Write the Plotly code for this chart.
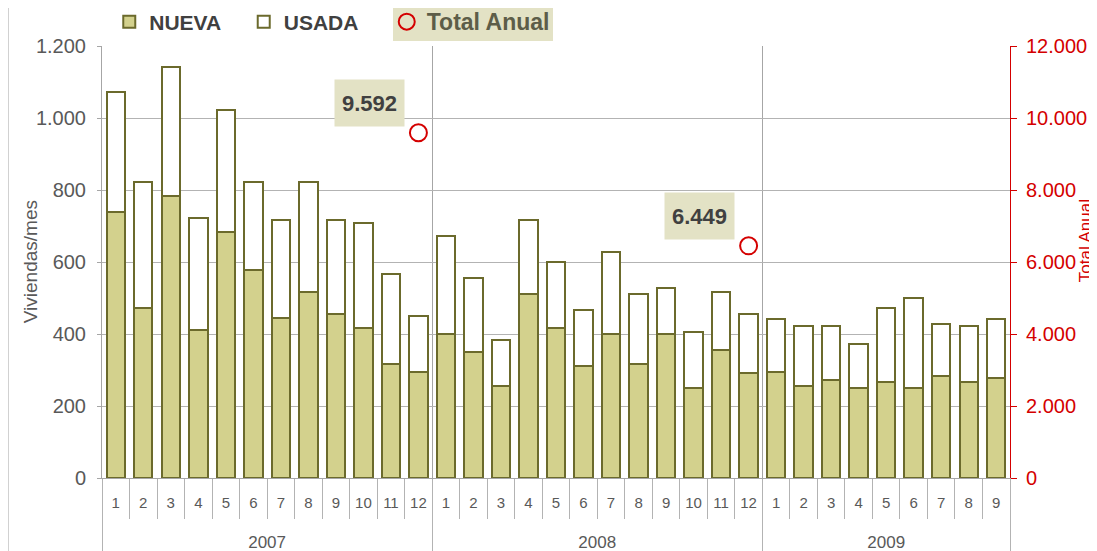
import plotly.graph_objects as go

years = ["2007"] * 12 + ["2008"] * 12 + ["2009"] * 9
months = [str(m) for m in range(1, 13)] * 2 + [str(m) for m in range(1, 10)]

nueva = [738, 473, 784, 411, 683, 579, 445, 517, 456, 417, 317, 295,
         400, 349, 255, 511, 418, 311, 400, 317, 400, 250, 356, 291,
         294, 255, 273, 250, 267, 250, 282, 266, 278]
usada = [334, 349, 358, 311, 339, 243, 272, 305, 261, 290, 250, 155,
         272, 207, 127, 206, 183, 156, 228, 194, 127, 155, 160, 165,
         149, 167, 149, 123, 205, 250, 147, 156, 165]

total_years = ["2007", "2008"]
total_anual = [9592, 6449]
total_labels = ["9.592", "6.449"]

year_names = ["2007", "2008", "2009"]

# positions derived from the data
pos = list(range(len(months)))
year_centers = [sum(i for i in pos if years[i] == y) / years.count(y) for y in year_names]
year_bounds = [-0.5] + [i + 0.5 for i in pos[:-1] if years[i] != years[i + 1]] + [len(pos) - 0.5]
month_bounds = [i - 0.5 for i in pos] + [len(pos) - 0.5]
total_pos = [max(i for i in pos if years[i] == y and months[i] == "12") for y in total_years]

OLIVE_FILL = "#d3d18d"
OLIVE_LINE = "#6b6a2c"
RED = "#d40000"
GRID = "#b3b3b3"
TXT = "#595959"
LABEL_BG = "#e3e2c5"
FONT = "Liberation Sans, Arial, sans-serif"
NBSP = "\u00a0"

fig = go.Figure()
fig.add_trace(go.Bar(
    x=pos, y=nueva, name="<b>NUEVA</b>" + NBSP * 3, customdata=years,
    marker=dict(color=OLIVE_FILL, line=dict(color=OLIVE_LINE, width=2)),
))
fig.add_trace(go.Bar(
    x=pos, y=usada, name="<b>USADA</b>" + NBSP * 4, customdata=years,
    marker=dict(color="white", line=dict(color=OLIVE_LINE, width=2)),
))
fig.add_trace(go.Scatter(
    x=total_pos, y=total_anual, xaxis="x2", yaxis="y2",
    name="<b><span style='color:#5d5d48;font-size:23px'>Total Anual</span></b>",
    mode="markers",
    marker=dict(symbol="circle-open", size=17, color=RED, line=dict(width=2, color=RED)),
))

annotations = []
for xi, v, lab in zip(total_pos, total_anual, total_labels):
    annotations.append(dict(
        x=xi, y=v, xref="x2", yref="y2", text="<b>" + lab + "</b>",
        showarrow=True, arrowcolor="rgba(0,0,0,0)", arrowwidth=0.1,
        ax=-49, ay=-30, bgcolor=LABEL_BG, borderpad=7, height=32,
        font=dict(size=22, color="#404040", family=FONT),
    ))
annotations.append(dict(
    text="Viviendas/mes", xref="paper", yref="paper", x=-0.079, y=0.5,
    xanchor="center", yanchor="middle",
    textangle=-90, showarrow=False, font=dict(size=19, color=TXT, family=FONT),
))
annotations.append(dict(
    text="Total Anual", xref="paper", yref="paper", x=1.0835, y=0.55,
    xanchor="center", yanchor="middle",
    textangle=-90, showarrow=False, font=dict(size=17, color=RED, family=FONT),
))

shapes = [
    # legend highlight box for Total Anual
    dict(type="rect", xref="paper", yref="paper", x0=0.3205, x1=0.4967,
         y0=1.0116, y1=1.0995, fillcolor=LABEL_BG, line=dict(width=0), layer="below"),
    # outer frame line at the left edge
    dict(type="line", xref="paper", yref="paper", x0=-0.1035, x1=-0.1035, y0=-0.2, y1=1.2,
         line=dict(color="#a6a6a6", width=1)),
]

xrange = [-0.5, len(pos) - 0.5]

# the page body adds an 8px offset; margins are set so the plot area lands
# at x 102..1010, y 46..478 in the browser window
fig.update_layout(
    width=1097, height=551,
    barmode="stack", bargap=0.33,
    separators=",.",
    paper_bgcolor="white", plot_bgcolor="white",
    font=dict(family=FONT, color=TXT),
    margin=dict(l=94, r=95, t=38, b=81, autoexpand=False),
    showlegend=True,
    legend=dict(orientation="h", x=0.008, y=1.0556, xanchor="left", yanchor="middle",
                font=dict(size=21, color="#404040"), bgcolor="rgba(0,0,0,0)",
                itemwidth=30, traceorder="normal"),
    xaxis=dict(
        range=xrange, showgrid=False, zeroline=False,
        tickmode="array", tickvals=pos, ticktext=months,
        ticks="outside", ticklen=11, tickcolor="rgba(0,0,0,0)",
        minor=dict(tickmode="array", tickvals=month_bounds, ticks="outside",
                   ticklen=40, tickcolor="#b3b3b3", showgrid=False),
        showline=True, linecolor="#a6a6a6",
        tickfont=dict(size=15, color=TXT),
    ),
    xaxis2=dict(
        range=xrange, overlaying="x", anchor="y", side="bottom", zeroline=False,
        showgrid=False, showline=False,
        tickmode="array", tickvals=year_centers, ticktext=year_names,
        ticks="outside", ticklen=49, tickcolor="rgba(0,0,0,0)",
        minor=dict(tickmode="array", tickvals=year_bounds, ticks="outside",
                   ticklen=80, tickcolor="#b3b3b3",
                   showgrid=True, gridcolor="#a6a6a6", gridwidth=1),
        tickfont=dict(size=17, color=TXT),
    ),
    yaxis=dict(
        range=[0, 1200], dtick=200, tickformat=",d",
        showgrid=True, gridcolor=GRID, gridwidth=1,
        showline=True, linecolor="#a6a6a6", zeroline=False,
        ticks="outside", ticklen=4, tickcolor="#a6a6a6", ticklabelstandoff=7,
        tickfont=dict(size=20, color=TXT),
    ),
    yaxis2=dict(
        range=[0, 12000], dtick=2000, tickformat=",d", anchor="x2",
        overlaying="y", side="right", showgrid=False, zeroline=False,
        showline=True, linecolor=RED, linewidth=1,
        ticks="outside", ticklen=6, tickcolor=RED, ticklabelstandoff=5,
        tickfont=dict(size=20, color=RED),
    ),
    annotations=annotations,
    shapes=shapes,
)

fig.write_html("out.html")
